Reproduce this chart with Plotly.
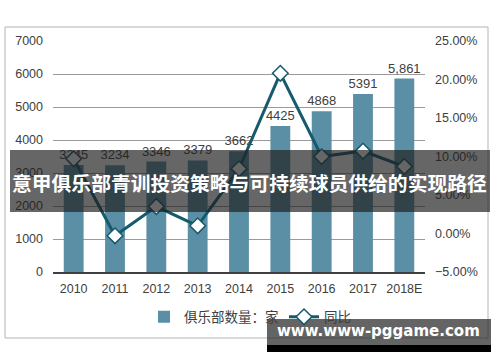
import plotly.graph_objects as go

years = ["2010", "2011", "2012", "2013", "2014", "2015", "2016", "2017", "2018E"]
clubs = [3245, 3234, 3346, 3379, 3662, 4425, 4868, 5391, 5861]
club_labels = ["3245", "3234", "3346", "3379", "3662", "4425", "4868", "5391", "5,861"]
yoy = [9.7, -0.3, 3.5, 1.0, 8.4, 20.8, 10.0, 10.7, 8.7]

title_text = "意甲俱乐部青训投资策略与可持续球员供给的实现路径"
watermark = "www.www-pggame.com"

W, H = 500, 362
L, R, T, B = 53, 425, 41, 272

def px(x):
    return (x - L) / (R - L)

def py(y):
    return (B - y) / (B - T)

fig = go.Figure()
fig.add_trace(go.Bar(
    x=years, y=clubs, name="俱乐部数量：家",
    marker=dict(color="#5b8fa6", line=dict(width=0)),
    text=club_labels, textposition="outside", cliponaxis=False, constraintext="none",
    textfont=dict(size=13, color="#404040", family="Liberation Sans, Arial"),
    width=0.48,
))
fig.add_trace(go.Scatter(
    x=years, y=yoy, name="同比", yaxis="y2", mode="lines+markers",
    line=dict(color="#155a6d", width=3),
    marker=dict(symbol="diamond", size=12, color="white",
                line=dict(color="#155a6d", width=1.5)),
    cliponaxis=False,
))

shapes = [
    dict(type="rect", xref="paper", yref="paper", x0=px(5), x1=px(488), y0=py(338), y1=py(27),
         line=dict(color="#b4b4b4", width=1), fillcolor="rgba(0,0,0,0)", layer="below"),
    dict(type="rect", xref="paper", yref="paper", x0=px(10), x1=px(490), y0=py(212), y1=py(150),
         line=dict(width=0), fillcolor="rgba(30,30,30,0.68)", layer="above"),
    dict(type="rect", xref="paper", yref="paper", x0=px(267), x1=px(491), y0=py(345), y1=py(319),
         line=dict(width=0), fillcolor="rgba(40,40,40,0.72)", layer="above"),
    dict(type="rect", xref="paper", yref="paper", x0=px(267), x1=px(491), y0=py(352), y1=py(345),
         line=dict(width=0), fillcolor="#000000", layer="above"),
]

annotations = [
    dict(text=title_text, xref="paper", yref="paper", x=px(249), y=py(182),
         showarrow=False, xanchor="center", yanchor="middle",
         font=dict(size=19.8, color="white", family="Noto Sans CJK SC", weight="bold")),
    dict(text=watermark, xref="paper", yref="paper", x=px(378), y=py(331),
         showarrow=False, xanchor="center", yanchor="middle",
         font=dict(size=15, color="white", family="DejaVu Sans", weight="bold")),
]

fig.update_layout(
    width=W, height=H,
    margin=dict(l=L, r=W - R, t=T, b=H - B, pad=0, autoexpand=False),
    paper_bgcolor="white", plot_bgcolor="white",
    showlegend=True,
    legend=dict(orientation="h", x=px(250), xanchor="center", y=py(317), yanchor="middle",
                font=dict(size=13.5, color="#404040", family="Noto Sans CJK SC"),
                bgcolor="rgba(0,0,0,0)", itemwidth=30, tracegroupgap=0),
    xaxis=dict(type="category", showgrid=False, showline=True, linecolor="#404040", linewidth=1.5,
               ticks="", ticklabelstandoff=4,
               tickfont=dict(size=12.5, color="#404040", family="Liberation Sans, Arial"),
               range=[-0.5, 8.5]),
    yaxis=dict(range=[0, 7000], dtick=1000, showgrid=True, gridcolor="#9a9a9a", gridwidth=1,
               zeroline=False, showline=False, ticks="", ticklabelstandoff=9,
               tickfont=dict(size=12.5, color="#404040", family="Liberation Sans, Arial")),
    yaxis2=dict(range=[-5, 25], dtick=5, overlaying="y", side="right", showgrid=False,
                zeroline=False, showline=False, ticks="", tickformat=".2f", ticksuffix="%",
                ticklabelstandoff=9,
                tickfont=dict(size=12.5, color="#404040", family="Liberation Sans, Arial")),
    bargap=0.52,
    shapes=shapes,
    annotations=annotations,
)

fig.write_html("out.html", config={"displayModeBar": False},
               post_script="document.body.style.margin='0';document.body.style.overflow='hidden';")
